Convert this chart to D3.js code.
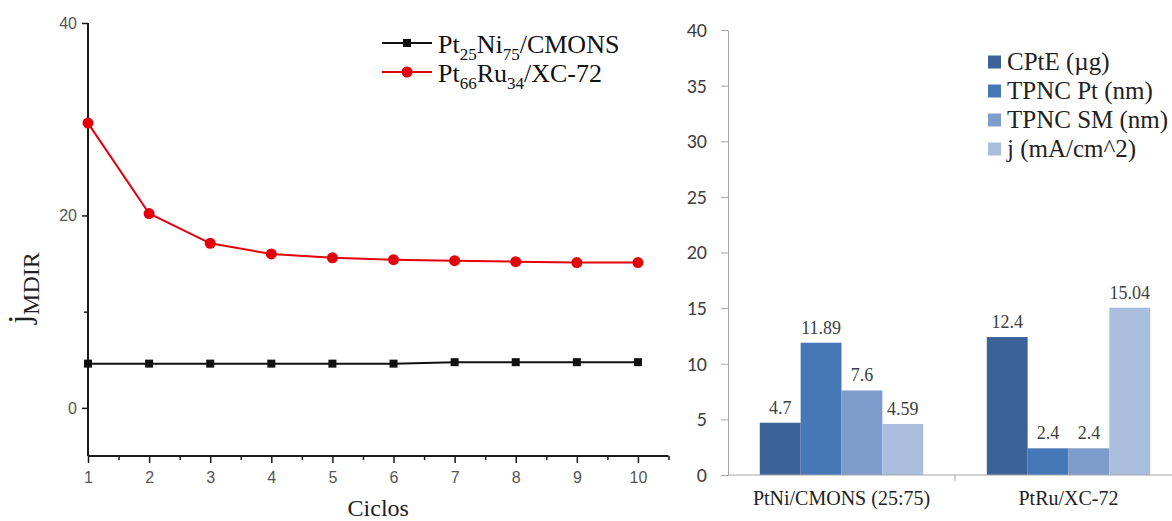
<!DOCTYPE html>
<html>
<head>
<script src="https://cdn.jsdelivr.net/npm/d3@7"></script>
</head>
<body style="margin:0">
<svg id="chart" width="1172" height="521" font-family="Liberation Serif" style="font-family: &quot;Liberation Serif&quot;"></svg>
<script>
// ---- Line chart data: current density per cycle ----
const cycles = [1, 2, 3, 4, 5, 6, 7, 8, 9, 10];
const ptNiValues = [4.6, 4.6, 4.6, 4.6, 4.6, 4.6, 4.75, 4.75, 4.75, 4.75];
const ptRuValues = [29.6, 20.2, 17.1, 16.0, 15.6, 15.4, 15.3, 15.2, 15.1, 15.1];
const lineYTicks = [0, 20, 40];
const lineYMinor = [10, 30];
const lineXMinor = [1.5, 2.5, 3.5, 4.5, 5.5, 6.5, 7.5, 8.5, 9.5, 10.5];

// ---- Bar chart data: catalyst properties ----
const catalysts = ["PtNi/CMONS (25:75)", "PtRu/XC-72"];
const seriesNames = ["CPtE (\u00b5g)", "TPNC Pt (nm)", "TPNC SM (nm)", "j (mA/cm^2)"];
const cpteValues = [4.7, 12.4];
const tpncPtValues = [11.89, 2.4];
const tpncSmValues = [7.6, 2.4];
const jValues = [4.59, 15.04];
const barLabels = [["4.7", "12.4"], ["11.89", "2.4"], ["7.6", "2.4"], ["4.59", "15.04"]];
const barYTicks = [0, 5, 10, 15, 20, 25, 30, 35, 40];

const SERIF = "Liberation Serif";
const SANS = "Liberation Sans";
const CALIBRI = "Carlito";

// apply a font to a selection both as attribute and inline style
function font(sel, family, size) {
  sel.attr("font-family", family).attr("font-size", size)
    .style("font-family", `"${family}"`).style("font-size", `${size}px`);
  return sel;
}

const svg = d3.select("#chart");

// ================= Line chart =================
const lx = d3.scaleLinear().domain([1, 10.5]).range([88, 668.5]);
const ly = d3.scaleLinear().domain([-5, 40]).range([456, 23]);
const axisColor = "#1a1a1a";

// minor ticks
svg.append("g").attr("transform", "translate(88,0)")
  .call(d3.axisLeft(ly).tickValues(lineYMinor).tickSize(4).tickFormat(""))
  .call(g => font(g, SANS, 16))
  .call(g => g.select(".domain").remove())
  .call(g => g.selectAll("line").attr("stroke", axisColor).attr("stroke-width", 1.5));
svg.append("g").attr("transform", "translate(0,456)")
  .call(d3.axisBottom(lx).tickValues(lineXMinor).tickSize(4).tickFormat(""))
  .call(g => font(g, SANS, 16))
  .call(g => g.select(".domain").remove())
  .call(g => g.selectAll("line").attr("stroke", axisColor).attr("stroke-width", 1.5));

// major y axis
svg.append("g").attr("transform", "translate(88,0)")
  .call(d3.axisLeft(ly).tickValues(lineYTicks).tickSize(6).tickSizeOuter(0).tickPadding(5))
  .call(g => font(g, SANS, 16))
  .call(g => g.select(".domain").attr("d", `M0,${ly(40)}V${ly(-5)}`).attr("stroke", axisColor).attr("stroke-width", 2))
  .call(g => g.selectAll("line").attr("stroke", axisColor).attr("stroke-width", 1.5))
  .call(g => font(g.selectAll("text"), SANS, 16).attr("fill", "#555"));

// major x axis
svg.append("g").attr("transform", "translate(0,456)")
  .call(d3.axisBottom(lx).tickValues(cycles).tickSize(7).tickSizeOuter(0).tickPadding(9).tickFormat(d3.format("d")))
  .call(g => font(g, SANS, 16))
  .call(g => g.select(".domain").attr("d", `M${lx(1)},0H${lx(10.5)}`).attr("stroke", axisColor).attr("stroke-width", 2))
  .call(g => g.selectAll("line").attr("stroke", axisColor).attr("stroke-width", 1.5))
  .call(g => font(g.selectAll("text"), SANS, 16).attr("fill", "#555"));

// axis titles
font(svg.append("text"), SERIF, 24)
  .attr("x", lx(5.75)).attr("y", 516)
  .attr("text-anchor", "middle").attr("fill", "#222")
  .text("Ciclos");

const yTitle = font(svg.append("text"), SERIF, 24)
  .attr("transform", "translate(30,288) rotate(-90)")
  .attr("text-anchor", "middle").attr("fill", "#222");
font(yTitle.append("tspan"), SERIF, 32).text("j");
font(yTitle.append("tspan"), SERIF, 24).attr("dy", 9).text("MDIR");

const lineGen = d3.line().x((d, i) => lx(cycles[i])).y(d => ly(d));

// Pt25Ni75/CMONS series (black, squares)
svg.append("path").datum(ptNiValues)
  .attr("d", lineGen).attr("fill", "none").attr("stroke", "#111").attr("stroke-width", 2);
svg.append("g").selectAll("rect").data(ptNiValues).join("rect")
  .attr("x", (d, i) => lx(cycles[i]) - 4).attr("y", d => ly(d) - 4)
  .attr("width", 8).attr("height", 8).attr("fill", "#111");

// Pt66Ru34/XC-72 series (red, circles)
const red = "#e3000b";
svg.append("path").datum(ptRuValues)
  .attr("d", lineGen).attr("fill", "none").attr("stroke", red).attr("stroke-width", 2);
svg.append("g").selectAll("circle").data(ptRuValues).join("circle")
  .attr("cx", (d, i) => lx(cycles[i])).attr("cy", d => ly(d))
  .attr("r", 5.5).attr("fill", red);

// legend of the line chart
const lineLegend = [
  { color: "#111", marker: "square", parts: [["Pt", 0], ["25", 1], ["Ni", 0], ["75", 1], ["/CMONS", 0]] },
  { color: red, marker: "circle", parts: [["Pt", 0], ["66", 1], ["Ru", 0], ["34", 1], ["/XC-72", 0]] }
];
lineLegend.forEach((item, i) => {
  const cy = 43 + i * 29;
  svg.append("line").attr("x1", 382).attr("x2", 432).attr("y1", cy).attr("y2", cy)
    .attr("stroke", item.color).attr("stroke-width", 2);
  if (item.marker === "square") {
    svg.append("rect").attr("x", 403).attr("y", cy - 4).attr("width", 8).attr("height", 8).attr("fill", item.color);
  } else {
    svg.append("circle").attr("cx", 407).attr("cy", cy).attr("r", 5.5).attr("fill", item.color);
  }
  const t = font(svg.append("text"), SERIF, 26).attr("x", 438).attr("y", cy + 10).attr("fill", "#111");
  let prevSub = 0;
  item.parts.forEach(([s, sub]) => {
    const dy = sub === prevSub ? 0 : (sub ? 7 : -7);
    font(t.append("tspan"), SERIF, sub ? 17 : 26).attr("dy", dy).text(s);
    prevSub = sub;
  });
});

// ================= Bar chart =================
const by = d3.scaleLinear().domain([0, 40]).range([475, 30]);
const bx0 = d3.scaleBand().domain(catalysts).range([728, 1182]);
const bw = bx0.bandwidth();
const bx1 = d3.scaleBand().domain(seriesNames).range([bw * 0.14, bw * 0.86]);
const barColors = ["#3c6397", "#4677b7", "#7d9ccb", "#a9bddd"];
const seriesValues = [cpteValues, tpncPtValues, tpncSmValues, jValues];
const gridGray = "#a6a6a6";

svg.append("g").attr("transform", "translate(728,0)")
  .call(d3.axisLeft(by).tickValues(barYTicks).tickSize(7).tickSizeOuter(0).tickPadding(14))
  .call(g => font(g, CALIBRI, 20))
  .call(g => g.select(".domain").attr("stroke", gridGray))
  .call(g => g.selectAll("line").attr("stroke", gridGray))
  .call(g => font(g.selectAll("text"), CALIBRI, 20).attr("fill", "#404040"));

// bars and their value labels
seriesNames.forEach((name, si) => {
  svg.append("g").selectAll("rect").data(seriesValues[si]).join("rect")
    .attr("x", (d, ci) => bx0(catalysts[ci]) + bx1(name))
    .attr("y", d => by(d))
    .attr("width", bx1.bandwidth())
    .attr("height", d => by(0) - by(d))
    .attr("fill", barColors[si]);
  seriesValues[si].forEach((d, ci) => {
    font(svg.append("text"), SERIF, 18)
      .attr("x", bx0(catalysts[ci]) + bx1(name) + bx1.bandwidth() / 2)
      .attr("y", by(d) - 9)
      .attr("text-anchor", "middle").attr("fill", "#404040")
      .text(barLabels[si][ci]);
  });
});

// category axis
svg.append("line").attr("x1", 728).attr("x2", 1182).attr("y1", 475).attr("y2", 475).attr("stroke", gridGray);
[bx0.range()[0] + bw, bx0.range()[0] + 2 * bw].forEach(x => {
  svg.append("line").attr("x1", x).attr("x2", x).attr("y1", 475).attr("y2", 481).attr("stroke", gridGray);
});
catalysts.forEach(c => {
  font(svg.append("text"), SERIF, 20)
    .attr("x", bx0(c) + bw / 2).attr("y", 505)
    .attr("text-anchor", "middle").attr("fill", "#222")
    .text(c);
});

// legend of the bar chart
seriesNames.forEach((name, i) => {
  const cy = 62 + i * 29;
  svg.append("rect").attr("x", 988).attr("y", cy - 6.5).attr("width", 13).attr("height", 13).attr("fill", barColors[i]);
  font(svg.append("text"), SERIF, 25).attr("x", 1007).attr("y", cy + 8).attr("fill", "#222")
    .text(name);
});
</script>
</body>
</html>
